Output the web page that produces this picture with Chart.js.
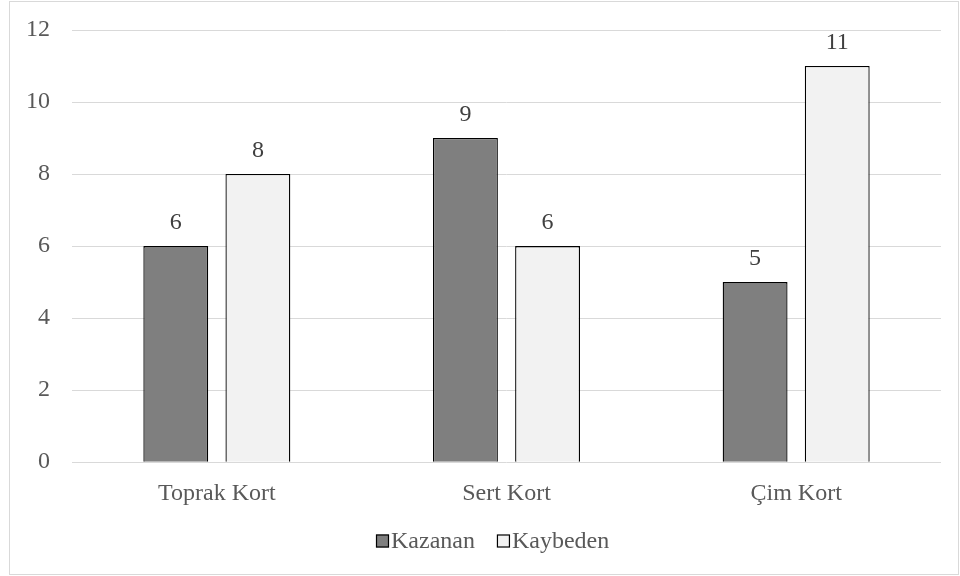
<!DOCTYPE html>
<html>
<head>
<meta charset="utf-8">
<script src="https://cdn.jsdelivr.net/npm/chart.js@4/dist/chart.umd.min.js"></script>
<style>
  body { margin: 0; background: #fff; }
  #wrap { width: 960px; height: 576px; }
</style>
</head>
<body>
<div id="wrap"><canvas id="canvas"></canvas></div>
<script>
// veriler
const kortlar = ['Toprak Kort', 'Sert Kort', 'Çim Kort'];
const kazanan = [6, 9, 5];
const kaybeden = [8, 6, 11];
const yTicks = [0, 2, 4, 6, 8, 10, 12];

const FONT = "'Liberation Serif', 'Times New Roman', serif";

/* cerceve + etiketler + lejant */
const extras = {
  id: 'extras',
  beforeDraw(chart) {
    const c = chart.ctx;
    c.save();
    c.fillStyle = '#fff';
    c.fillRect(0, 0, chart.width, chart.height);
    c.strokeStyle = '#d9d9d9';
    c.lineWidth = 1;
    c.strokeRect(9.5, 1.5, 949, 573);
    c.restore();
  },
  afterDatasetsDraw(chart) {
    const c = chart.ctx;
    c.save();
    c.font = '24px ' + FONT;
    c.fillStyle = '#404040';
    c.textAlign = 'center';
    c.textBaseline = 'alphabetic';
    chart.data.datasets.forEach((ds, i) => {
      chart.getDatasetMeta(i).data.forEach((bar, j) => {
        c.fillText(ds.data[j], bar.x, bar.y - 17);
      });
    });

    // lejant
    c.textAlign = 'left';
    c.textBaseline = 'middle';
    const legendY = 541;
    let x = 376;
    chart.data.datasets.forEach((ds) => {
      c.fillStyle = ds.backgroundColor;
      c.fillRect(x, legendY - 6.5, 13, 13);
      c.strokeStyle = '#000';
      c.lineWidth = 1.2;
      c.strokeRect(x + 0.5, legendY - 6, 12, 12);
      c.fillStyle = '#595959';
      c.fillText(ds.label, x + 15, legendY + 1);
      x += 15 + c.measureText(ds.label).width + 22;
    });
    c.restore();
  }
};

const ctx = document.getElementById('canvas');
new Chart(ctx, {
  type: 'bar',
  data: {
    labels: kortlar,
    datasets: [{
      label: 'Kazanan',
      data: kazanan,
      backgroundColor: '#7f7f7f',
      borderColor: '#000',
      borderWidth: 1.3
    },
    {
      label: 'Kaybeden',
      data: kaybeden,
      backgroundColor: '#f2f2f2',
      borderColor: '#000',
      borderWidth: 1.3
    }]
  },
  options: {
    responsive: true,
    maintainAspectRatio: false,
    animation: false,
    categoryPercentage: 0.567,
    barPercentage: 0.79,
    layout: {
      padding: { left: 4, right: 19, top: 30, bottom: 59 }
    },
    plugins: {
      legend: { display: false },
      tooltip: { enabled: false }
    },
    scales: {
      x: {
        grid: { display: false },
        border: { display: false },
        ticks: {
          color: '#595959',
          padding: 9,
          font: { family: FONT, size: 24 }
        }
      },
      y: {
        min: 0,
        max: 12,
        afterBuildTicks(scale) {
          scale.ticks = yTicks.map(v => ({ value: v }));
        },
        afterFit(scale) {
          scale.paddingTop = 0;
          scale.paddingBottom = 0;
        },
        grid: { color: '#d9d9d9', lineWidth: 1, drawTicks: false },
        border: { display: false },
        ticks: {
          color: '#595959',
          padding: 22,
          font: { family: FONT, size: 24 }
        }
      }
    }
  },
  plugins: [extras]
});
</script>
</body>
</html>
